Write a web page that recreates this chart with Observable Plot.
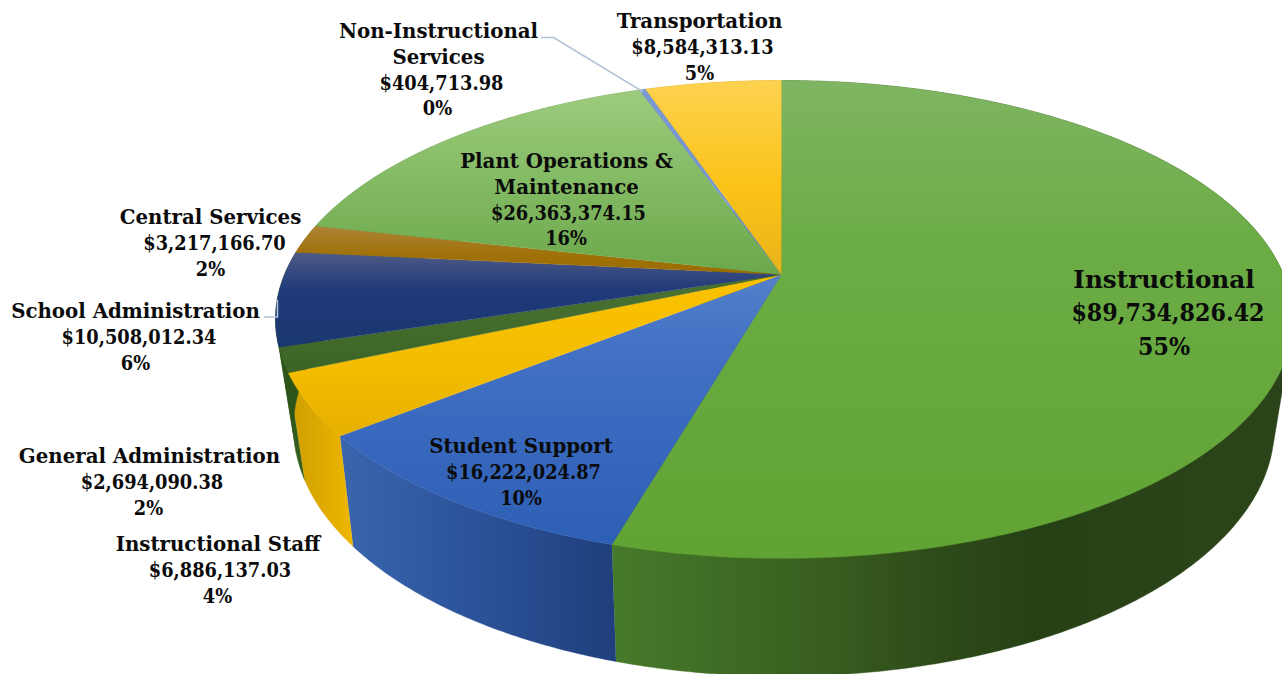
<!DOCTYPE html>
<html><head><meta charset="utf-8">
<script src="https://cdn.jsdelivr.net/npm/d3@7"></script>
<script src="https://cdn.jsdelivr.net/npm/@observablehq/plot@0.6"></script>
<style>html,body{margin:0;padding:0;background:#fff;overflow:hidden}
.cond text, text.cond, .cond tspan{font-stretch:condensed}</style>
</head><body><div id="chart"></div>
<script>
// Data, clockwise from 12 o'clock
const categories = ["Instructional","Student Support","Instructional Staff","General Administration","School Administration","Central Services","Plant Operations &\nMaintenance","Non-Instructional\nServices","Transportation"];
const amounts = [89734826.42,16222024.87,6886137.03,2694090.38,10508012.34,3217166.70,26363374.15,404713.98,8584313.13];

// Styles: [offset, colour] gradient stops
const topStops = [
  [[0,"#7fb562"],[0.35,"#6bac45"],[1,"#61a333"]],
  [[0,"#5480cb"],[0.3,"#4170c4"],[1,"#2d5fb5"]],
  [[0,"#fcc200"],[0.6,"#f3bc00"],[1,"#e6b000"]],
  [[0,"#4a7232"],[1,"#3c6424"]],
  [[0,"#4e5b86"],[0.4,"#20397a"],[1,"#1a386f"]],
  [[0,"#ad8336"],[0.6,"#a07108"],[1,"#9a6c00"]],
  [[0,"#9ccb7c"],[0.5,"#83ba64"],[1,"#6ca84b"]],
  [[0,"#7a9ad6"],[1,"#6f90d0"]],
  [[0,"#fdd24f"],[0.55,"#fbc318"],[1,"#e8b31a"]]
];
const sideStops = [
  [[0,"#467a2a"],[0.33,"#375c1f"],[0.475,"#2e4b19"],[0.62,"#264016"],[0.87,"#2b4318"],[1,"#2b4318"]],
  [[0,"#3a66ae"],[0.5,"#2b5298"],[1,"#1f3f7c"]],
  [[0,"#cd9e00"],[1,"#eeb600"]],
  [[0,"#2e5519"],[1,"#36601e"]],
  [[0,"#2e5519"],[1,"#2e5519"]],
  [[0,"#8a6000"],[1,"#8a6000"]],
  [[0,"#5c8f40"],[1,"#5c8f40"]],
  [[0,"#5b7fc0"],[1,"#5b7fc0"]],
  [[0,"#c89a10"],[1,"#c89a10"]]
];

// Label layout: x centre per line (name lines, amount, percent), first line y, line step, font size
const labelLayout = [
  {x:[1163.5,1167.5,1163.5], y:279.5, step:33.5, size:24.7},
  {x:[520.5,523,520.5], y:446.5, step:25.6, size:19.8},
  {x:[217.5,219.5,217], y:544.5, step:25.6, size:19.8},
  {x:[149,151.5,148], y:456.5, step:25.6, size:19.8},
  {x:[135,138.5,135], y:311.5, step:25.6, size:19.8},
  {x:[210,214,210], y:217.5, step:25.6, size:19.8},
  {x:[566,568,565.5], y:161.5, step:25.6, size:19.8},
  {x:[438,441,437], y:31.5, step:25.6, size:19.8},
  {x:[699,702,699], y:21.5, step:25.6, size:19.8}
];
const leaders = [
  [[541,37],[553,37],[642,91]],
  [[264,316.5],[277,316.5],[277,300]]
];

// Perspective model of the pie disc
const cx = 781, cy = 274;
const project = (t, k, by, bb, p) => {
  const X = Math.sin(t), Y = -Math.cos(t), w = 1 - p * Y;
  const a = X < 0 ? 497 : 502;
  return [cx + k * a * X / w, by + bb * Y / w];
};
const topPt = t => project(t, 1, cy, 230.5, 0.188);
const botPt = t => project(t, 0.962, 377, 239, 0.2);
const arc = (a0, a1) => {
  const n = Math.max(2, Math.ceil((a1 - a0) / 0.01));
  return d3.range(n + 1).map(i => a0 + (a1 - a0) * i / n);
};

const total = d3.sum(amounts);
const arcs = d3.pie().sort(null).startAngle(0).endAngle(2 * Math.PI)(amounts);
const pctText = v => Math.round(v / total * 100) + "%";
const money = d3.format("$,.2f");

const nameLines = [], numberLines = [];
categories.forEach((c, i) => {
  const L = labelLayout[i], parts = c.split("\n");
  parts.forEach((t, j) => nameLines.push({text: t, x: L.x[0], y: L.y + j * L.step, size: L.size}));
  const n = parts.length;
  numberLines.push({text: money(amounts[i]), x: L.x[1], y: L.y + n * L.step, size: L.size});
  numberLines.push({text: pctText(amounts[i]), x: L.x[2], y: L.y + (n + 1) * L.step, size: L.size});
});

function defs() {
  const d = d3.create("svg:defs");
  const add = (id, stops, x2, y2) => {
    const g = d.append("linearGradient").attr("id", id).attr("x1", 0).attr("y1", 0).attr("x2", x2).attr("y2", y2);
    stops.forEach(([o, c]) => g.append("stop").attr("offset", o).attr("stop-color", c));
  };
  topStops.forEach((s, i) => add("top" + i, s, 0, 1));
  sideStops.forEach((s, i) => add("side" + i, s, 1, 0));
  return d.node();
}

const sideMarks = arcs.map((s, i) => {
  const ts = arc(s.startAngle, s.endAngle);
  let pts = [...ts.map(topPt), ...ts.slice().reverse().map(botPt)];
  if (i === 0) pts = d3.polygonHull(pts); // the wall's silhouette includes its tangent edge
  return Plot.line(pts, {x: "0", y: "1", fill: `url(#side${i})`, stroke: `url(#side${i})`, strokeWidth: 0.4, curve: "linear"});
});
const topMarks = arcs.map((s, i) => {
  const pts = [[cx, cy], ...arc(s.startAngle, s.endAngle).map(topPt)];
  return Plot.line(pts, {x: "0", y: "1", fill: `url(#top${i})`, stroke: `url(#top${i})`, strokeWidth: 0.4, curve: "linear"});
});
const leaderMarks = leaders.map(l => Plot.line(l, {x: "0", y: "1", stroke: "#b5c3d6", strokeWidth: 1.5, curve: "linear"}));

const textOpts = {x: "x", y: "y", text: "text", fontSize: "size", fontWeight: "bold", fill: "#0b0b0b", textAnchor: "middle", lineAnchor: "middle"};
const chart = Plot.plot({
  width: 1282, height: 674, margin: 0,
  x: {type: "linear", domain: [0, 1282], range: [0, 1282], axis: null},
  y: {type: "linear", domain: [0, 674], range: [0, 674], axis: null},
  style: {background: "#fff", overflow: "hidden"},
  marks: [
    defs,
    ...sideMarks,
    ...topMarks,
    ...leaderMarks,
    Plot.text(nameLines, {...textOpts, fontFamily: "'DejaVu Serif'"}),
    Plot.text(numberLines, {...textOpts, fontFamily: "'DejaVu Serif Condensed','DejaVu Serif'", className: "cond"})
  ]
});
document.getElementById("chart").appendChild(chart);
</script></body></html>
